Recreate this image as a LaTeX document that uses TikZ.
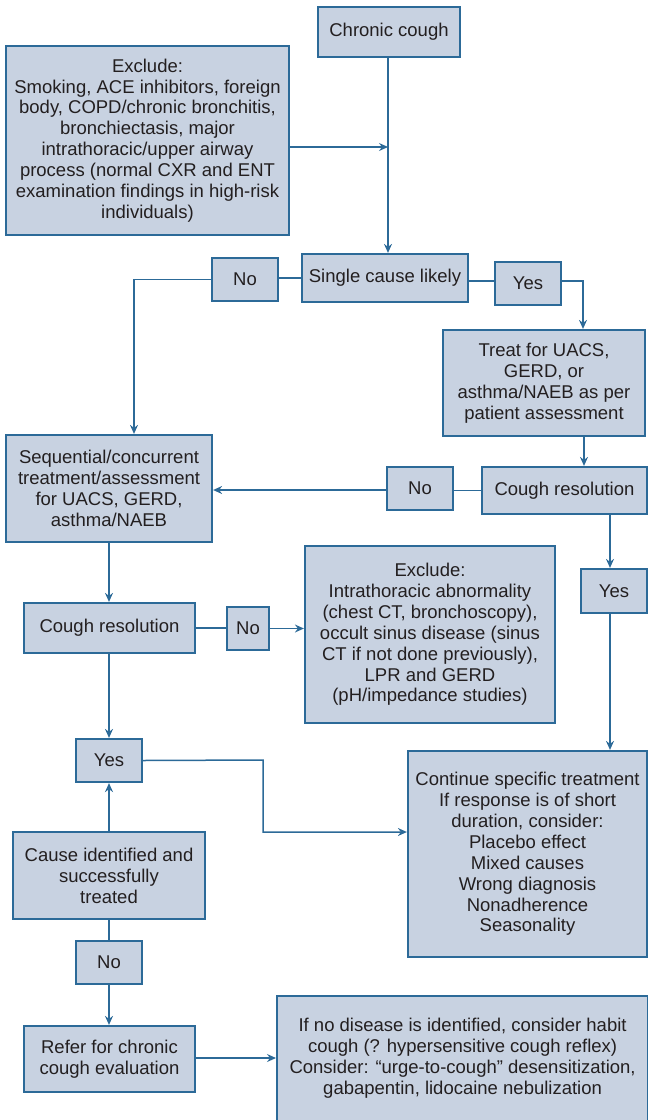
\documentclass[tikz,border=0pt]{standalone}
\usepackage{fontspec}
\setmainfont{Liberation Sans}
\usetikzlibrary{arrows.meta}
\definecolor{boxfill}{HTML}{C8D2E1}
\definecolor{boxline}{HTML}{2C6A98}
\definecolor{txt}{HTML}{231F20}
\tikzset{
  box/.style={draw=boxline, fill=boxfill, line width=2.2pt, inner sep=0pt, align=center, text=txt,
     font=\fontsize{18.5}{20.9}\selectfont},
  conn/.style={draw=boxline, line width=1.5pt},
  arr/.style={conn, -{Stealth[length=9pt,width=8pt,inset=3pt]}},
}
\newcommand{\bx}[6]{% name, x1, y1, x2, y2, text
  \node[box, minimum width={#4-#2}, minimum height={#5-#3}] (#1) at ({(#2+#4)/2},{-(#3+#5)/2}) {#6};}
\begin{document}
\begin{tikzpicture}[x=1pt,y=1pt]
\useasboundingbox (0,0) rectangle (648,-1120);
\begin{scope}
\clip (0,0) rectangle (648,-1120);
\bx{cc}{318}{7}{460}{57}{Chronic cough}
\bx{exa}{6}{46}{289}{235}{Exclude:\\Smoking, ACE inhibitors, foreign\\body, COPD/chronic bronchitis,\\bronchiectasis, major\\intrathoracic/upper airway\\process (normal CXR and ENT\\examination findings in high-risk\\individuals)}
\bx{scl}{302}{254}{468}{302}{Single cause likely}
\bx{noa}{212}{258}{278}{301}{No}
\bx{yesa}{495}{262}{561}{305}{Yes}
\bx{treat}{443}{330}{645}{436}{Treat for UACS,\\GERD, or\\asthma/NAEB as per\\patient assessment}
\bx{cra}{482}{467}{647}{514}{Cough resolution}
\bx{nob}{387}{467}{453}{510}{No}
\bx{seq}{6}{435}{212}{542}{Sequential/concurrent\\treatment/assessment\\for UACS, GERD,\\asthma/NAEB}
\bx{crb}{24}{603}{195}{653}{Cough resolution}
\bx{noc}{227}{607}{269}{650}{No}
\bx{exb}{305}{546}{555}{723}{Exclude:\\Intrathoracic abnormality\\(chest CT, bronchoscopy),\\occult sinus disease (sinus\\CT if not done previously),\\LPR and GERD\\(pH/impedance studies)}
\bx{yesb}{581}{569}{647}{613}{Yes}
\bx{cont}{408}{751}{647}{957}{Continue specific treatment\\If response is of short\\duration, consider:\\Placebo effect\\Mixed causes\\Wrong diagnosis\\Nonadherence\\Seasonality}
\bx{yesc}{76}{739}{142}{782}{Yes}
\bx{cause}{13}{832}{205}{919}{Cause identified and\\successfully\\treated}
\bx{nod}{76}{941}{142}{984}{No}
\bx{refer}{24}{1026}{195}{1092}{Refer for chronic\\cough evaluation}
\node[box, minimum width=371, minimum height=135, anchor=north west] (final) at (276,-995) {};
\node[text=txt, font=\fontsize{18.5}{20.9}\selectfont, align=center, anchor=north] (finaltext) at ([yshift=-20]final.north) {If no disease is identified, consider habit\\cough (? hypersensitive cough reflex)\\Consider: \char"201Curge-to-cough\char"201D{} desensitization,\\gabapentin, lidocaine nebulization};
\end{scope}
% connectors
\coordinate (mainline) at ([xshift=-1]cc.south);
\draw[arr] (mainline) -- (mainline |- scl.north);
\draw[arr] ([yshift=-6.5]exa.east) -- ([yshift=-6.5]exa.east -| mainline);
\draw[conn] (scl.west) -- (scl.west -| noa.east);
\coordinate (noaleft) at ([xshift=25]seq.north);
\draw[arr] (noa.west) -| (noaleft);
\draw[conn] ([yshift=-3]scl.east) -- ([yshift=-3]scl.east -| yesa.west);
\coordinate (treattop) at ([xshift=39]treat.north);
\draw[arr] ([yshift=2.5]yesa.east) -| (treattop);
\coordinate (treatbot) at ([xshift=40]treat.south);
\draw[arr] (treatbot) -- (treatbot |- cra.north);
\draw[conn] (cra.west) -- (cra.west -| nob.east);
\draw[arr] ([yshift=-1.5]nob.west) -- ([yshift=-1.5]nob.west -| seq.east);
\coordinate (crabot) at ([xshift=45.5]cra.south);
\draw[arr] (crabot) -- (crabot |- yesb.north);
\coordinate (yesbbot) at ([xshift=-4]yesb.south);
\draw[arr] (yesbbot) -- (yesbbot |- cont.north);
\draw[arr] (seq.south) -- (seq.south |- crb.north);
\draw[conn] (crb.east) -- (crb.east -| noc.west);
\draw[arr] (noc.east) -- (noc.east -| exb.west);
\draw[arr] ([xshift=-0.5]crb.south) -- ([xshift=-0.5]crb.south |- yesc.north);
\coordinate (bend) at (263,-760);
\draw[arr] (yesc.east) -- (bend) |- ([yshift=22]cont.west);
\draw[arr] (cause.north) -- (cause.north |- yesc.south);
\draw[conn] (cause.south) -- (nod.north);
\draw[arr] (nod.south) -- (nod.south |- refer.north);
\draw[arr] ([yshift=1]refer.east) -- ([yshift=1]refer.east -| final.west);
\end{tikzpicture}
\end{document}
